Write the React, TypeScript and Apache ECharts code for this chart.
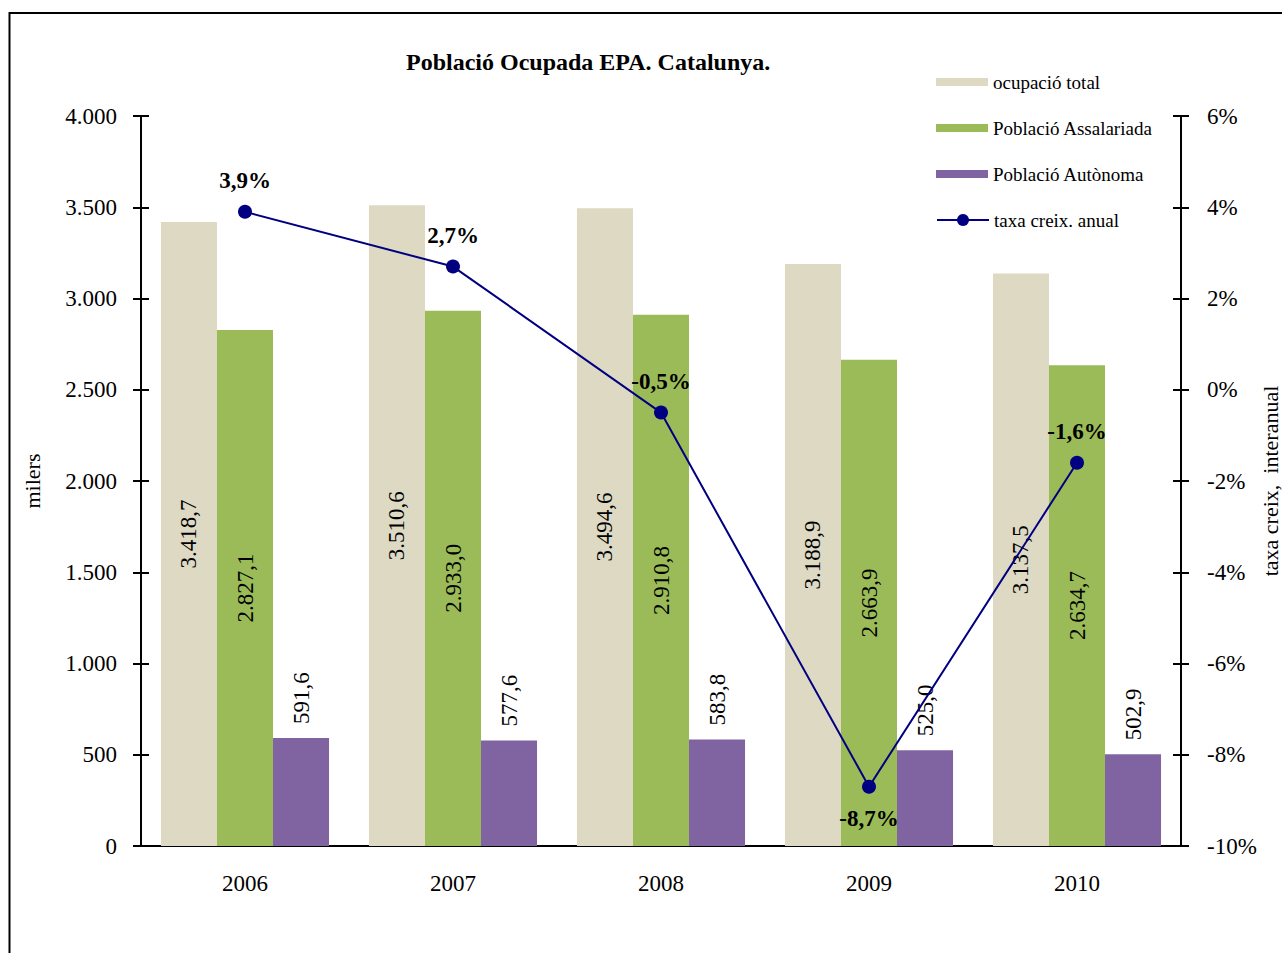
import React, { useEffect, useRef } from "react";
import * as echarts from "echarts";

const years = ["2006", "2007", "2008", "2009", "2010"];
const ocupacioTotal = [3418.7, 3510.6, 3494.6, 3188.9, 3137.5];
const assalariada = [2827.1, 2933.0, 2910.8, 2663.9, 2634.7];
const autonoma = [591.6, 577.6, 583.8, 525.0, 502.9];
const taxa = [3.9, 2.7, -0.5, -8.7, -1.6];

const FONT = "'Liberation Serif', 'Times New Roman', serif";

function fmtNum(v: number, dec: number): string {
  const neg = v < 0;
  const s = Math.abs(v).toFixed(dec);
  const [ip, dp] = s.split(".");
  const withSep = ip.replace(/\B(?=(\d{3})+(?!\d))/g, ".");
  return (neg ? "-" : "") + withSep + (dp !== undefined ? "," + dp : "");
}

export default function App() {
  const ref = useRef<HTMLDivElement>(null);
  useEffect(() => {
    if (!ref.current) return;
    const chart = echarts.init(ref.current, undefined, { renderer: "svg" });
    const gridPos = {
      left: 141,
      right: 101,
      top: 116,
      bottom: 107,
      containLabel: false,
      outerBoundsMode: "none",
    };
    const axisText = { fontFamily: FONT, fontSize: 23, color: "#000" };
    const insideLabel = {
      show: true,
      position: "inside",
      rotate: 90,
      fontFamily: FONT,
      fontSize: 23,
      color: "#000",
      formatter: (p: any) => fmtNum(p.value, 1),
    };
    const legendText = { fontFamily: FONT, fontSize: 19, color: "#000", lineHeight: 20 };
    chart.setOption({
      animation: false,
      backgroundColor: "#fff",
      textStyle: { fontFamily: FONT },
      title: {
        text: "Població Ocupada EPA. Catalunya.",
        left: 406,
        top: 50,
        padding: 0,
        textStyle: { fontFamily: FONT, fontSize: 24, fontWeight: "bold", color: "#000" },
      },
      legend: [
        {
          orient: "vertical",
          left: 936,
          top: 72,
          padding: 0,
          itemWidth: 52,
          itemHeight: 8,
          itemGap: 26,
          textStyle: legendText,
          data: [
            { name: "ocupació total", icon: "rect" },
            { name: "Població Assalariada", icon: "rect" },
            { name: "Població Autònoma", icon: "rect" },
          ],
        },
        {
          orient: "vertical",
          left: 936,
          top: 210,
          padding: 0,
          itemWidth: 52,
          itemHeight: 15,
          textStyle: legendText,
          data: [{ name: "taxa creix. anual" }],
        },
      ],
      graphic: [
        {
          type: "rect",
          shape: { x: 9.5, y: 13, width: 1400, height: 1100 },
          style: { fill: "none", stroke: "#000", lineWidth: 2 },
          silent: true,
        },
      ],
      grid: [{ ...gridPos }, { ...gridPos }],
      xAxis: [
        {
          type: "category",
          data: years,
          gridIndex: 0,
          axisLine: { lineStyle: { color: "#000", width: 2 } },
          axisTick: { length: 6, lineStyle: { color: "#000", width: 2 } },
          axisLabel: { ...axisText, margin: 26 },
        },
        {
          type: "category",
          data: years,
          gridIndex: 1,
          axisLine: { show: false },
          axisTick: { inside: true, length: 8, lineStyle: { color: "#000", width: 2 } },
          axisLabel: { show: false },
        },
      ],
      yAxis: [
        {
          type: "value",
          gridIndex: 0,
          min: 0,
          max: 4000,
          interval: 500,
          name: "milers",
          nameLocation: "middle",
          nameGap: 98,
          nameRotate: 90,
          nameMoveOverlap: false,
          nameTextStyle: { fontFamily: FONT, fontSize: 22, color: "#000" },
          axisLine: { show: true, lineStyle: { color: "#000", width: 2 } },
          axisTick: { show: true, length: 8, lineStyle: { color: "#000", width: 2 } },
          splitLine: { show: false },
          axisLabel: { ...axisText, margin: 24, formatter: (v: number) => fmtNum(v, 0) },
        },
        {
          type: "value",
          gridIndex: 0,
          position: "right",
          min: -10,
          max: 6,
          interval: 2,
          name: "taxa creix,  interanual",
          nameLocation: "middle",
          nameGap: 78,
          nameRotate: 90,
          nameMoveOverlap: false,
          nameTextStyle: { fontFamily: FONT, fontSize: 22, color: "#000" },
          axisLine: { show: true, lineStyle: { color: "#000", width: 2 } },
          axisTick: { show: true, length: 8, lineStyle: { color: "#000", width: 2 } },
          splitLine: { show: false },
          axisLabel: { ...axisText, margin: 26, formatter: (v: number) => v + "%" },
        },
        {
          type: "value",
          gridIndex: 1,
          min: 0,
          max: 4000,
          interval: 500,
          axisLine: { show: false },
          axisTick: { show: true, inside: true, length: 8, lineStyle: { color: "#000", width: 2 } },
          splitLine: { show: false },
          axisLabel: { show: false },
        },
        {
          type: "value",
          gridIndex: 1,
          position: "right",
          min: -10,
          max: 6,
          interval: 2,
          axisLine: { show: false },
          axisTick: { show: true, inside: true, length: 8, lineStyle: { color: "#000", width: 2 } },
          splitLine: { show: false },
          axisLabel: { show: false },
        },
      ],
      series: [
        {
          name: "ocupació total",
          type: "bar",
          xAxisIndex: 0,
          yAxisIndex: 0,
          data: ocupacioTotal,
          barGap: "0%",
          barCategoryGap: "19.2%",
          itemStyle: { color: "#DDD9C3" },
          label: insideLabel,
        },
        {
          name: "Població Assalariada",
          type: "bar",
          xAxisIndex: 0,
          yAxisIndex: 0,
          data: assalariada,
          barGap: "0%",
          barCategoryGap: "19.2%",
          itemStyle: { color: "#9BBB59" },
          label: insideLabel,
        },
        {
          name: "Població Autònoma",
          type: "bar",
          xAxisIndex: 0,
          yAxisIndex: 0,
          data: autonoma,
          barGap: "0%",
          barCategoryGap: "19.2%",
          itemStyle: { color: "#8064A2" },
          label: {
            show: true,
            position: "top",
            rotate: 90,
            align: "left",
            verticalAlign: "middle",
            distance: 14,
            fontFamily: FONT,
            fontSize: 23,
            color: "#000",
            formatter: (p: any) => fmtNum(p.value, 1),
          },
        },
        {
          name: "taxa creix. anual",
          type: "line",
          xAxisIndex: 0,
          yAxisIndex: 1,
          data: taxa.map((v) => ({
            value: v,
            label: { position: v < -5 ? "bottom" : "top" },
          })),
          symbol: "circle",
          symbolSize: 14,
          lineStyle: { color: "#000080", width: 2 },
          itemStyle: { color: "#000080" },
          label: {
            show: true,
            distance: 13,
            fontFamily: FONT,
            fontSize: 23,
            fontWeight: "bold",
            color: "#000",
            formatter: (p: any) => fmtNum(p.value, 1) + "%",
          },
          z: 5,
        },
      ],
    });
    return () => chart.dispose();
  }, []);
  return (
    <div
      ref={ref}
      style={{ position: "fixed", left: 0, top: 0, width: 1282, height: 953 }}
    />
  );
}
